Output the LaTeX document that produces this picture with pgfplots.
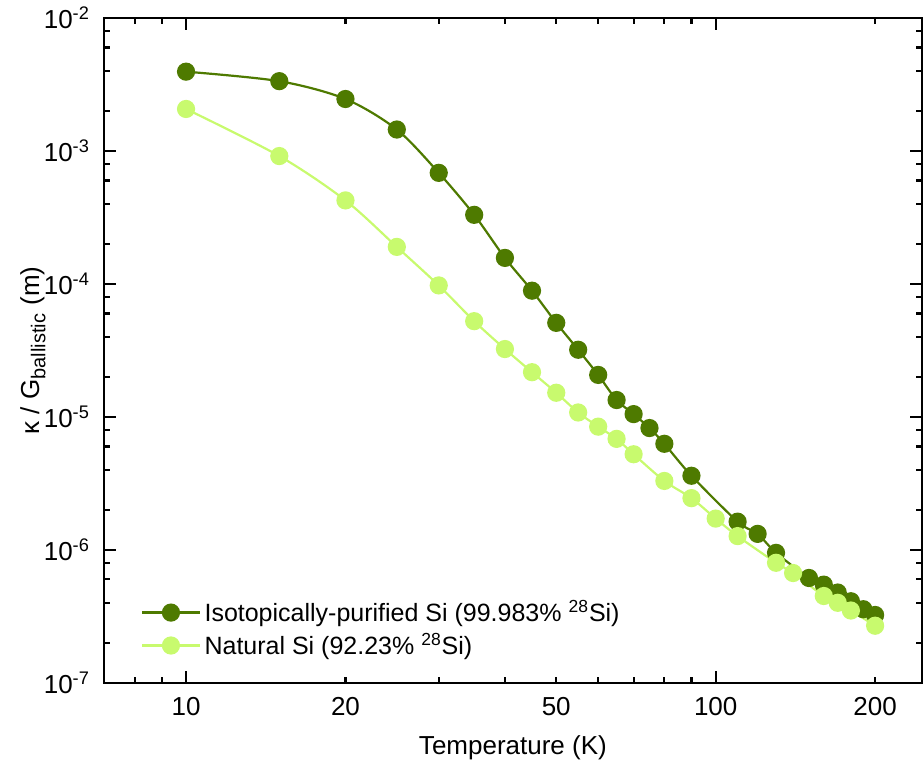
\documentclass[border=0pt]{standalone}
\usepackage{fontspec}
\setmainfont{Liberation Sans}
\usepackage{pgfplots}
\pgfplotsset{compat=1.18}
\definecolor{dkgreen}{RGB}{78,122,0}
\definecolor{ltgreen}{RGB}{200,250,110}
\begin{document}
\begin{tikzpicture}
\begin{axis}[
  scale only axis, width=409pt, height=332.5pt,
  xmode=log, ymode=log,
  xmin=7, xmax=245, ymin=1e-7, ymax=1e-2,
  axis line style={line width=1.2pt},
  every tick/.style={line width=1.1pt, black},
  tick align=inside,
  major tick length=6pt, minor tick length=3pt,
  xtick={10,100}, xticklabels={10,100},
  extra x ticks={20,50,200}, extra x tick labels={20,50,200},
  extra x tick style={major tick length=3pt},
  minor xtick={8,9,20,30,40,50,60,70,80,90,200},
  ytick={1e-7,1e-6,1e-5,1e-4,1e-3,1e-2},
  yticklabels={10\textsuperscript{-7},10\textsuperscript{-6},10\textsuperscript{-5},10\textsuperscript{-4},10\textsuperscript{-3},10\textsuperscript{-2}},
  minor ytick={2e-7,4e-7,6e-7,8e-7,2e-6,4e-6,6e-6,8e-6,2e-5,4e-5,6e-5,8e-5,2e-4,4e-4,6e-4,8e-4,2e-3,4e-3,6e-3,8e-3},
  ticklabel style={font=\fontsize{13}{15}\selectfont},
  xticklabel style={anchor=base, yshift=-16.5pt},
  yticklabel style={xshift=-3.5pt},
  xlabel={Temperature (K)},
  ylabel={κ / G\textsubscript{\fontsize{10}{12}\selectfont ballistic} (m)},
  label style={font=\fontsize{13}{15}\selectfont},
  xlabel style={at={(axis description cs:0.5,0)}, anchor=base, yshift=-36pt},
  ylabel style={at={(axis description cs:-0.087,0.5)}, anchor=center},
  legend style={at={(0,0)}, anchor=south west, xshift=15.5pt, yshift=8.5pt, draw=none, fill=none,
    font=\fontsize{12.5}{14}\selectfont, row sep=0.5pt},
  legend cell align=left,
  legend image code/.code={\draw[mark repeat=2,mark phase=2,#1] plot coordinates {(0pt,0pt) (14.25pt,0pt) (28.5pt,0pt)};},
]
\addplot[dkgreen, line width=1.1pt, smooth, mark=*, mark size=4pt, mark options={solid, fill=dkgreen, draw=dkgreen}] coordinates {
(10,3.95e-3) (15,3.35e-3) (20,2.46e-3) (25,1.45e-3) (30,6.85e-4) (35,3.31e-4)
(40,1.57e-4) (45,8.9e-5) (50,5.1e-5) (55,3.2e-5) (60,2.07e-5) (65,1.34e-5)
(70,1.05e-5) (75,8.25e-6) (80,6.28e-6) (90,3.61e-6) (110,1.63e-6) (120,1.32e-6)
(130,9.5e-7) (150,6.15e-7) (160,5.48e-7) (170,4.78e-7) (180,4.11e-7) (190,3.58e-7) (200,3.24e-7)
};
\addlegendentry{Isotopically-purified Si (99.983\% \textsuperscript{28}Si)}
\addplot[ltgreen, line width=1.1pt, smooth, mark=*, mark size=4pt, mark options={solid, fill=ltgreen, draw=ltgreen}] coordinates {
(10,2.07e-3) (15,9.16e-4) (20,4.25e-4) (25,1.9e-4) (30,9.75e-5) (35,5.25e-5)
(40,3.24e-5) (45,2.17e-5) (50,1.52e-5) (55,1.08e-5) (60,8.45e-6) (65,6.84e-6)
(70,5.24e-6) (80,3.3e-6) (90,2.45e-6) (100,1.72e-6) (110,1.27e-6) (130,8.0e-7)
(140,6.7e-7) (160,4.5e-7) (170,4.0e-7) (180,3.5e-7) (200,2.69e-7)
};
\addlegendentry{Natural Si (92.23\% \textsuperscript{28}Si)}
\end{axis}
\path ([shift={(-52pt,-42.5pt)}]current axis.south west) rectangle ([shift={(0.5pt,9pt)}]current axis.north east);
\end{tikzpicture}
\end{document}
